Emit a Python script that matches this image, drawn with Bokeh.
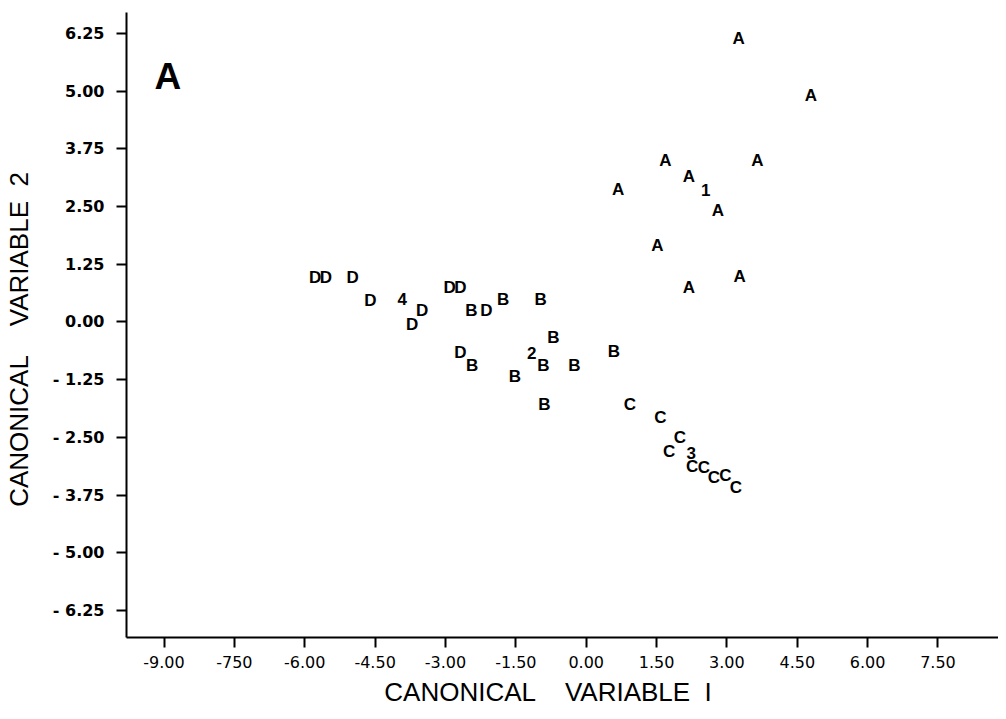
from bokeh.plotting import figure
from bokeh.models import ColumnDataSource, FixedTicker, Label
from bokeh.core.properties import value
from bokeh.embed import file_html
from bokeh.resources import INLINE

# ---- data (canonical variable 1, canonical variable 2) ----
group_a_x = [3.25, 4.79, 1.69, 3.65, 2.19, 0.68, 2.81, 1.52, 3.27, 2.19]
group_a_y = [6.14, 4.91, 3.50, 3.50, 3.15, 2.87, 2.41, 1.66, 0.99, 0.75]

group_b_x = [-2.45, -1.77, -0.97, -0.70, -2.43, -0.91, -0.25, -1.52, -0.89, 0.59]
group_b_y = [0.25, 0.49, 0.49, -0.34, -0.94, -0.94, -0.94, -1.18, -1.79, -0.64]

group_c_x = [0.93, 1.58, 2.00, 1.77, 2.26, 2.51, 2.72, 2.97, 3.19]
group_c_y = [-1.79, -2.07, -2.50, -2.81, -3.13, -3.15, -3.37, -3.33, -3.59]

group_d_x = [-5.78, -5.55, -4.98, -4.60, -3.50, -3.71, -2.91, -2.68, -2.13, -2.68]
group_d_y = [0.96, 0.96, 0.96, 0.47, 0.25, -0.05, 0.75, 0.75, 0.25, -0.66]

# group centroids, labelled 1-4
centroid_labels = ["1", "2", "3", "4"]
centroid_x = [2.55, -1.16, 2.24, -3.92]
centroid_y = [2.87, -0.68, -2.83, 0.49]

x_ticks = [-9.0, -7.5, -6.0, -4.5, -3.0, -1.5, 0.0, 1.5, 3.0, 4.5, 6.0, 7.5]
x_tick_labels = ["-9.00", "-750", "-6.00", "-4.50", "-3.00", "-1.50", "0.00",
                 "1.50", "3.00", "4.50", "6.00", "7.50"]
y_ticks = [6.25, 5.0, 3.75, 2.5, 1.25, 0.0, -1.25, -2.5, -3.75, -5.0, -6.25]
y_tick_labels = ["6.25", "5.00", "3.75", "2.50", "1.25", "0.00", "- 1.25",
                 "- 2.50", "- 3.75", "- 5.00", "- 6.25"]

# ---- build source ----
labels, xs, ys = [], [], []
for name, gx, gy in (("A", group_a_x, group_a_y), ("B", group_b_x, group_b_y),
                     ("C", group_c_x, group_c_y), ("D", group_d_x, group_d_y)):
    labels += [name] * len(gx)
    xs += gx
    ys += gy
labels += centroid_labels
xs += centroid_x
ys += centroid_y
src = ColumnDataSource(dict(x=xs, y=ys, label=labels))

p = figure(width=998, height=711, x_range=(-9.80, 8.79), y_range=(-6.835, 6.705),
           output_backend="svg", toolbar_location=None,
           min_border_left=124, min_border_top=12, min_border_right=0,
           min_border_bottom=74)
p.outline_line_color = None
p.xgrid.visible = False
p.ygrid.visible = False
p.background_fill_color = "white"
p.border_fill_color = "white"

p.text(x="x", y="y", text="label", source=src, text_align="center",
       text_baseline="middle", text_font=value("Liberation Sans"),
       text_font_style="bold", text_font_size="17px", text_color="black")

p.add_layout(Label(x=-8.92, y=5.32, text="A", text_align="center",
                   text_baseline="middle", text_font="Liberation Sans",
                   text_font_style="bold", text_font_size="37px",
                   text_color="black"))

for ax in (p.xaxis[0], p.yaxis[0]):
    ax.axis_line_width = 2
    ax.axis_line_color = "black"
    ax.major_tick_line_width = 2
    ax.major_tick_line_color = "black"
    ax.major_tick_in = 0
    ax.major_tick_out = 10
    ax.minor_tick_line_color = None
    ax.major_label_text_color = "black"
    ax.axis_label_text_color = "black"
    ax.axis_label_text_font = "Liberation Sans"
    ax.axis_label_text_font_style = "normal"
    ax.axis_label_text_font_size = "26px"

NB = "\u00a0"
p.xaxis.ticker = FixedTicker(ticks=x_ticks)
p.xaxis.major_label_overrides = {t: s for t, s in zip(x_ticks, x_tick_labels)}
p.xaxis.major_label_text_font = "DejaVu Sans"
p.xaxis.major_label_text_font_size = "16px"
p.xaxis.major_label_standoff = 8
p.xaxis.axis_label = "CANONICAL" + NB * 3 + " VARIABLE" + NB + " I" + NB * 4
p.xaxis.axis_label_standoff = 6

p.yaxis.ticker = FixedTicker(ticks=y_ticks)
p.yaxis.major_label_overrides = {t: s for t, s in zip(y_ticks, y_tick_labels)}
p.yaxis.major_label_text_font = "DejaVu Sans"
p.yaxis.major_label_text_font_style = "bold"
p.yaxis.major_label_text_font_size = "16px"
p.yaxis.major_label_standoff = 12
p.yaxis.axis_label = "CANONICAL" + NB * 3 + " VARIABLE" + NB + " 2" + NB * 4
p.yaxis.axis_label_standoff = 16

open("out.html", "w").write(file_html(p, INLINE))
